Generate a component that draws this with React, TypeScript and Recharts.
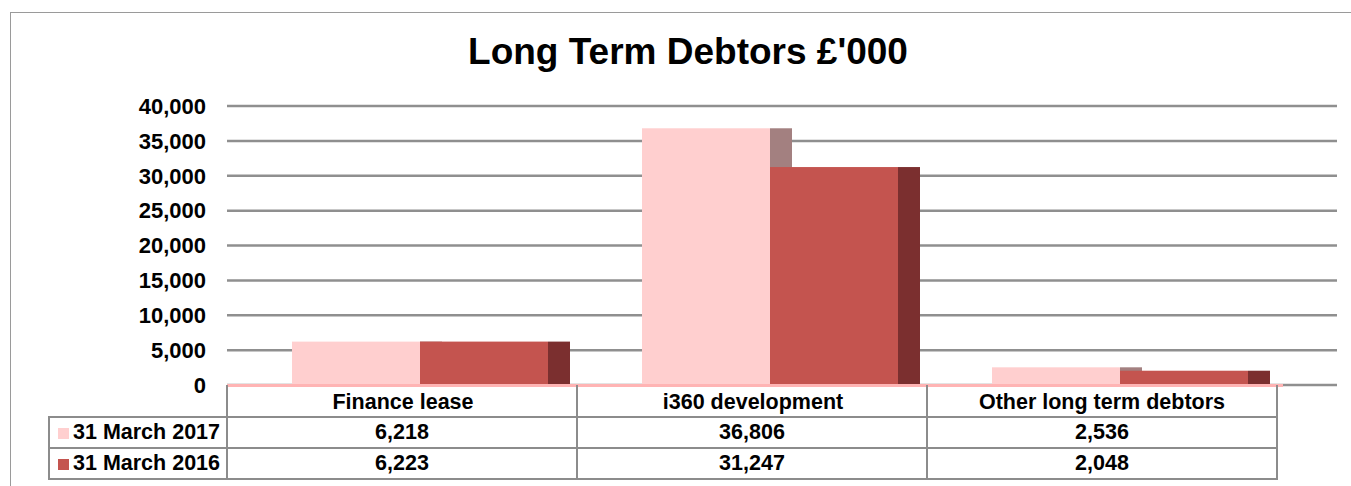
import React from "react";
import { BarChart, Bar, XAxis, YAxis, CartesianGrid } from "recharts";

const categories = ["Finance lease", "i360 development", "Other long term debtors"];
const seriesNames = ["31 March 2017", "31 March 2016"];
const values2017 = [6218, 36806, 2536];
const values2016 = [6223, 31247, 2048];
const yTicks = [0, 5000, 10000, 15000, 20000, 25000, 30000, 35000, 40000];

const PINK = "#ffcfcf";
const PINK_SIDE = "#a38080";
const RED = "#c4544f";
const RED_SIDE = "#7b2f2f";
const GRID = "#8f8f8f";
const FONT = "'Liberation Sans', Arial, Helvetica, sans-serif";

const W = 1351;
const H = 486;
const PLOT_LEFT = 227;
const PLOT_RIGHT = 1337;
const PLOT_TOP = 106;
const PLOT_BOTTOM = 385;
const PAD_RIGHT = 60;
const CAT_W = (PLOT_RIGHT - PLOT_LEFT - PAD_RIGHT) / categories.length;

const data = categories.map((name, i) => ({
  name,
  y2017: values2017[i],
  y2016: values2016[i],
}));

const fmt = (v: number) => v.toLocaleString("en-GB");

// excel-ish 3d bar: front face plus a darker side face, shifted right
function makeShape(side: string) {
  return (props: any) => {
    const { x, y, width, height, fill } = props;
    if (height == null || height <= 0) return <g />;
    const sx = x + 18;
    return (
      <g>
        <rect x={sx + width} y={y} width={22} height={height} fill={side} />
        <rect x={sx} y={y} width={width} height={height} fill={fill} />
      </g>
    );
  };
}

const line = "2px solid #8c8c8c";

function DataTable() {
  const rowH = 31;
  const rows = [values2017, values2016];
  const keys = [PINK, RED];
  const cells: React.ReactNode[] = [];

  // header row with category names
  categories.forEach((c, i) => {
    cells.push(
      <div
        key={"h" + i}
        style={{
          position: "absolute",
          left: PLOT_LEFT - 1 + i * CAT_W,
          top: PLOT_BOTTOM,
          width: CAT_W + 2,
          height: rowH,
          borderLeft: line,
          borderRight: i === categories.length - 1 ? line : undefined,
          boxSizing: "border-box",
          textAlign: "center",
          lineHeight: rowH + 4 + "px",
        }}
      >
        {c}
      </div>
    );
  });

  rows.forEach((vals, r) => {
    const top = PLOT_BOTTOM + rowH * (r + 1);
    cells.push(
      <div
        key={"l" + r}
        style={{
          position: "absolute",
          left: 48,
          top,
          width: PLOT_LEFT - 48 + 1,
          height: rowH + 2,
          border: line,
          boxSizing: "border-box",
          lineHeight: rowH - 2 + "px",
          whiteSpace: "nowrap",
        }}
      >
        <span
          style={{
            display: "inline-block",
            width: 11,
            height: 11,
            background: keys[r],
            marginLeft: 8,
            marginRight: 4,
          }}
        />
        {seriesNames[r]}
      </div>
    );
    vals.forEach((v, i) => {
      cells.push(
        <div
          key={"c" + r + i}
          style={{
            position: "absolute",
            left: PLOT_LEFT - 1 + i * CAT_W,
            top,
            width: CAT_W + 2,
            height: rowH + 2,
            border: line,
            boxSizing: "border-box",
            textAlign: "center",
            lineHeight: rowH - 2 + "px",
          }}
        >
          {fmt(v)}
        </div>
      );
    });
  });

  return (
    <>
      <div
        style={{
          position: "absolute",
          left: PLOT_LEFT,
          top: PLOT_BOTTOM - 1,
          width: 1283 - PLOT_LEFT,
          height: 3,
          background: "#ffb4b4",
        }}
      />
      {cells}
    </>
  );
}

export default function App() {
  return (
    <div
      style={{
        position: "absolute",
        left: 0,
        top: 0,
        width: W,
        height: H,
        overflow: "hidden",
        background: "#fff",
        fontFamily: FONT,
        fontWeight: "bold",
        fontSize: 21.5,
        color: "#000",
      }}
    >
      <div
        style={{
          position: "absolute",
          left: 10,
          top: 12,
          width: W,
          height: H,
          borderLeft: "1.5px solid #9a9a9a",
          borderTop: "1.5px solid #9a9a9a",
        }}
      />
      <div
        style={{
          position: "absolute",
          left: 0,
          top: 29,
          width: 1376,
          textAlign: "center",
          fontSize: 37,
          lineHeight: "46px",
        }}
      >
        Long Term Debtors £'000
      </div>
      <div style={{ position: "absolute", left: 0, top: 0 }}>
        <BarChart
          width={W}
          height={H}
          data={data}
          barGap={0}
          barSize={128}
          margin={{ top: PLOT_TOP, right: W - PLOT_RIGHT, bottom: H - PLOT_BOTTOM, left: 0 }}
        >
          <CartesianGrid vertical={false} stroke={GRID} strokeWidth={2.5} />
          <XAxis dataKey="name" hide padding={{ left: 0, right: PAD_RIGHT }} />
          <YAxis
            width={PLOT_LEFT}
            domain={[0, 40000]}
            ticks={yTicks}
            interval={0}
            axisLine={false}
            tickLine={false}
            tickSize={0}
            tickMargin={21}
            tickFormatter={fmt}
            tick={{ fill: "#000", fontSize: 22, fontWeight: "bold", fontFamily: FONT }}
          />
          <Bar dataKey="y2017" fill={PINK} shape={makeShape(PINK_SIDE)} isAnimationActive={false} />
          <Bar dataKey="y2016" fill={RED} shape={makeShape(RED_SIDE)} isAnimationActive={false} />
        </BarChart>
      </div>
      <DataTable />
    </div>
  );
}
